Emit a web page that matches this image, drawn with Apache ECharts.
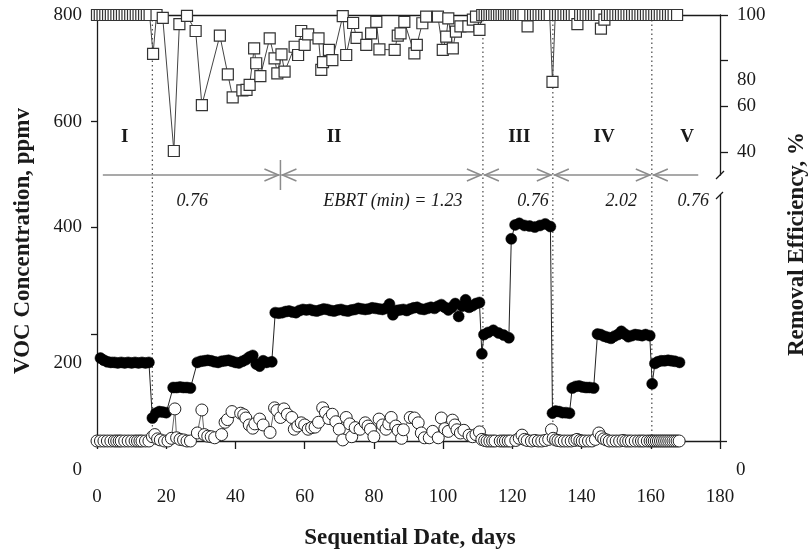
<!DOCTYPE html>
<html>
<head>
<meta charset="utf-8">
<title>VOC concentration and removal efficiency</title>
<script src="https://cdn.jsdelivr.net/npm/echarts@6/dist/echarts.min.js"></script>
<style>
  html, body { margin: 0; padding: 0; background: #fff; }
  #chart { width: 812px; height: 553px; }
</style>
</head>
<body>
<div id="chart"></div>
<script>
// removal efficiency, % (open squares, right axis, top panel)
const efficiency = [
  [0,100],[0.8,100],[1.6,100],[2.4,100],[3.2,100],[4,100],[4.8,100],[5.6,100],[6.4,100],[7.2,100],
  [8,100],[8.8,100],[9.6,100],[10.4,100],[11.2,100],[12,100],[12.8,100],[13.6,100],[14.4,100],[15.2,100],
  [16.2,83],[17.2,100],[19,98.7],[22.2,40.5],[23.8,96],[26,99.6],[28.5,93],[30.3,60.6],[35.5,91],
  [37.8,74],[39.2,64],[42,67],[43.2,67.2],[44.1,69.4],[45.4,85.4],[46,78.9],[47.2,73.3],[49.9,89.8],
  [51.3,81],[52.1,74.5],[53.3,82.8],[54.2,75.2],[57.1,86.1],[58.1,82.5],[59,93],[60,86.9],[61,91.5],
  [64,89.8],[64.8,76],[65.3,79.4],[67,84.7],[68,80.3],[71,99.5],[72,82.5],[74,96.5],[75,90],
  [77.8,86.9],[79.2,92],[80.7,97],[81.6,85],[86,84.7],[86.9,91],[87.7,92],[88.8,97],[91.7,83.2],
  [92.4,86.9],[94,96.4],[95.1,99.3],[98.5,99.3],[99.9,84.7],[100.9,90.5],[101.5,98.5],[102.8,85.4],
  [103.7,92.7],[105,95],[107.3,95],[108.6,98],[109.5,99.3],[110.5,93.5],
  [111.3,100],[112,100],[112.7,100],[113.4,100],[114.1,100],[114.8,100],[115.5,100],[116.2,100],
  [116.9,100],[117.6,100],[118.3,100],[119,100],[119.7,100],[120.4,100],[121.1,100],[121.8,100],
  [122.5,100],[123.2,100],[124.4,95],[125.2,100],[126,100],[126.8,100],[127.6,100],[128.4,100],
  [129.2,100],[130,100],[130.8,100],[131.6,70.7],[132.4,100],[133.2,100],[134,100],[134.8,100],
  [135.6,100],[136.4,100],[137.2,100],[138,100],[138.8,96],[139.6,100],[140.4,100],[141.2,100],
  [142,100],[142.8,100],[143.6,100],[144.4,100],[145.2,100],[145.6,94],[146.6,98],[147.4,100],
  [148.2,100],[149,100],[149.8,100],[150.6,100],[151.4,100],[152.2,100],[153,100],[153.8,100],
  [154.6,100],[155.4,100],[156.2,100],[157,100],[157.8,100],[158.6,100],[159.4,100],[160.2,100],
  [161,100],[161.8,100],[162.6,100],[163.4,100],[164.2,100],[165,100],[165.8,100],[166.6,100],[167.6,100]
];

// inlet VOC, ppmv (filled circles)
const inletVOC = [
  [1,155],[2,151],[3,148],[4,147],[5,147],[6,146],[7,147],[8,146],[9,147],[10,146],[11,147],[12,146],
  [13,147],[14,146],[15,147],
  [16,43],[17,52],[18,55],[19,54],[20,53],
  [22,100],[23,100],[24,101],[25,100],[26,100],[27,99],
  [29,147],[30,149],[31,150],[32,151],[33,150],[34,148],[35,147],[36,149],[37,150],[38,151],[39,149],
  [40,147],[41,146],[42,149],[43,152],[44,157],[45,160],[46,144],[47,140],[48,150],[49,147],[50.5,148],
  [51.5,240],[52.5,239],[53.5,240],[54.5,242],[55.5,243],[56.5,241],[57.5,240],[58.5,244],[59.5,246],
  [60.5,245],[61.5,246],[62.5,244],[63.5,243],[64.5,245],[65.5,247],[66.5,246],[67.5,244],[68.5,243],
  [69.5,245],[70.5,246],[71.5,244],[72.5,243],[73.5,245],[74.5,246],[75.5,248],[76.5,247],[77.5,246],
  [78.5,247],[79.5,249],[80.5,248],[81.5,247],[82.5,246],[83.5,248],[84.5,256],[85.5,236],[86.5,244],
  [87.5,245],[88.5,246],[89.5,244],[90.5,247],[91.5,249],[92.5,250],[93.5,247],[94.5,246],[95.5,248],
  [96.5,250],[97.5,248],[98.5,252],[99.5,255],[100.5,250],[101.5,245],[102.5,250],[103.5,257],
  [104.5,233],[105.5,252],[106.5,264],[107.5,250],[108.5,253],[109.5,257],[110.5,259],
  [111.2,163],[111.8,199],[113,203],[114.5,207],[116,202],[117.5,198],[119,193],
  [119.7,378],[120.8,404],[122,407],[123.5,403],[125,402],[126.5,400],[128,403],[129.5,406],[131,401],
  [131.6,52],[132.5,56],[133.5,55],[134.5,53],[135.5,53],[136.5,52],
  [137.3,99],[138.3,102],[139.3,103],[140.3,101],[141.3,100],[142.3,100],[143.5,99],
  [144.6,200],[145.5,199],[146.5,196],[147.5,194],[148.5,192],[149.5,196],[150.5,199],[151.5,205],
  [152.5,200],[153.5,195],[154.5,197],[155.5,199],[156.5,198],[157.5,197],[158.5,199],[159.7,197],
  [160.4,107],[161.2,145],[162,148],[163,150],[164,150],[165,151],[166,150],[167,149],[168.3,147]
];

// outlet VOC, ppmv (open circles)
const outletVOC = [
  [0,0],[1,0],[2,0],[3,0],[4,0],[5,0],[5.7,0],[6.4,0],[7,0],[8,0],[9,0],[10,0],[11,0],[11.7,0],
  [12.4,0],[13,0],[14,0],[15,0],[16,8],[16.7,12],[17.5,4],[18.3,2],[19.5,0],[20.5,0],[21.5,5],
  [22.5,60],[23,6],[24,3],[25,2],[26,0],[27,0],[29,15],[30.3,58],[31,12],[32,9],[33,8],[34,6],
  [36,12],[37,35],[37.7,40],[39,55],[41.5,52],[42.4,49],[43,43],[44,30],[45,24],[45.6,32],[47,41],
  [48,30],[50,16],[51.3,62],[52,57],[53,44],[54,60],[55,50],[56.3,44],[57,22],[58,28],[59,34],
  [60,30],[61,22],[62,25],[63,26],[64,35],[65.2,62],[66,53],[67,42],[68,50],[69,36],[70,22],[71,2],
  [72,44],[73,32],[73.6,8],[74.6,25],[76,22],[77.5,34],[78.3,28],[79,22],[80,8],[81.5,41],[82.5,30],
  [83.5,22],[84.3,32],[85,44],[86.3,28],[87,20],[88,5],[88.5,21],[90.5,44],[91.7,43],[92.8,34],
  [93.7,15],[94.6,6],[96,6],[97,18],[98.6,6],[99.5,43],[100.5,23],[101.5,18],[102.7,39],[103.4,30],
  [104,21],[105,15],[106,20],[107.5,11],[108.5,8],[109.5,12],[110.5,17],[111.2,3],[112,1],[112.7,0],
  [113.5,0],[114.3,0],[115,0],[116.5,0],[117.3,0],[118,0],[118.8,0],[119.5,0],[121,1],[122,5],
  [122.8,11],[123.5,3],[124.3,1],[125.5,0],[126.5,1],[127.5,0],[128.5,0],[129.5,1],[130.5,3],
  [131.3,21],[131.8,5],[132.5,2],[133.2,1],[134,0],[135,0],[136,0],[137,0],[138,1],[138.7,3],
  [139.5,1],[140.2,0],[141,0],[142,0],[143,0],[144,3],[145,15],[145.7,8],[146.4,4],[147.2,2],[148,0],
  [149,0],[150,0],[151,0],[152,1],[152.8,0],[153.6,0],[154.4,0],[155.5,0],[156.5,0],[157.3,0],[158,0],
  [159,0],[159.8,0],[160.4,0],[161,0],[161.6,0],[162.2,0],[162.8,0],[163.4,0],[164,0],[164.6,0],
  [165.2,0],[165.8,0],[166.4,0],[167,0],[167.6,0],[168.2,0]
];

// phases
const phaseChanges = [16, 111.5, 131.7, 160.3];          // dotted lines
const arrowSegments = [[1.4, 53, 0, 1], [53, 111.5, 1, 1], [111.5, 131.7, 1, 1], [131.7, 160.3, 1, 1], [160.3, 174, 1, 0]];
const phaseBars = [53];
const phaseNames = ['I', 'II', 'III', 'IV', 'V'];
const phaseNameDays = [8, 68.5, 122, 146.5, 170.5];
const ebrtLabels = ['0.76', 'EBRT (min) = 1.23', '0.76', '2.02', '0.76'];
const ebrtDays = [27.5, 85.5, 126, 151.5, 172.3];

// tick values
const xTicks = { min: 0, max: 180, interval: 20 };
const vocTopTicks = [600, 800];
const effTicks = [40, 60, 80, 100];
const vocBottomTicks = [0, 200, 400];

const FONT = '"Liberation Serif", "DejaVu Serif", serif';
const INK = '#1a1a1a';

const chart = echarts.init(document.getElementById('chart'));

// overlay grid works in pixels from its top edge
const ARROW_Y = 160;
const textStyle = { fontFamily: FONT, fontSize: 19, color: INK };

function chevron(x, y, dir) {
  return {
    type: 'polyline',
    shape: { points: [[x - dir * 14, y - 6], [x, y], [x - dir * 14, y + 6]] },
    style: { stroke: '#8c8c8c', lineWidth: 1.5, fill: null }
  };
}

const option = {
  animation: false,
  backgroundColor: '#fff',
  grid: [
    { left: 97, right: 92, top: 15, height: 160 },
    { left: 97, right: 92, top: 195, height: 246 },
    { left: 97, right: 92, top: 15, height: 426 }
  ],
  xAxis: [
    {
      gridIndex: 0, type: 'value', min: 0, max: 180, position: 'top',
      axisLine: { onZero: false, lineStyle: { color: INK, width: 1.3 } },
      axisTick: { show: false }, axisLabel: { show: false }, splitLine: { show: false }
    },
    {
      gridIndex: 1, type: 'value', min: xTicks.min, max: xTicks.max, interval: xTicks.interval,
      axisLine: { onZero: false, lineStyle: { color: INK, width: 1.3 } },
      axisTick: { length: 8, lineStyle: { color: INK, width: 1.3 } },
      axisLabel: Object.assign({ margin: 47 }, textStyle),
      splitLine: { show: false }
    },
    { gridIndex: 2, type: 'value', min: 0, max: 180, show: false }
  ],
  yAxis: [
    {
      gridIndex: 0, type: 'value', min: 500, max: 800, position: 'left',
      axisLine: { show: false, onZero: false },
      axisTick: { show: true, customValues: vocTopTicks, length: 6, lineStyle: { color: INK, width: 1.3 } },
      axisLabel: Object.assign({ customValues: vocTopTicks, margin: 15 }, textStyle),
      splitLine: { show: false }
    },
    {
      gridIndex: 0, type: 'value', min: 30, max: 100, position: 'right',
      axisLine: { show: true, onZero: false, lineStyle: { color: INK, width: 1.3 } },
      axisTick: { show: true, customValues: effTicks, length: 8, lineStyle: { color: INK, width: 1.3 } },
      axisLabel: Object.assign({
        customValues: effTicks, margin: 17,
        formatter: v => (v === 80 ? '{lo|80}' : '{n|' + v + '}'),
        rich: {
          n: { fontFamily: FONT, fontSize: 19, color: INK },
          lo: { fontFamily: FONT, fontSize: 19, color: INK, padding: [38, 0, 0, 0] }
        }
      }, textStyle),
      splitLine: { show: false }
    },
    {
      gridIndex: 1, type: 'value', min: 0, max: 460, position: 'left',
      axisLine: { show: false, onZero: false },
      axisTick: { show: true, customValues: vocBottomTicks, length: 6, lineStyle: { color: INK, width: 1.3 } },
      axisLabel: Object.assign({
        customValues: vocBottomTicks, margin: 15,
        formatter: v => (v === 400 ? '{n|400}' : '{lo|' + v + '}'),
        rich: {
          n: { fontFamily: FONT, fontSize: 19, color: INK },
          lo: { fontFamily: FONT, fontSize: 19, color: INK, padding: [58, 0, 0, 0] }
        }
      }, textStyle),
      splitLine: { show: false }
    },
    {
      gridIndex: 1, type: 'value', min: 0, max: 460, position: 'right',
      axisLine: { show: true, onZero: false, lineStyle: { color: INK, width: 1.3 } },
      axisTick: { show: true, customValues: [0], length: 7, lineStyle: { color: INK, width: 1.3 } },
      axisLabel: Object.assign({
        customValues: [0], margin: 16,
        formatter: v => '{lo|' + v + '}',
        rich: { lo: { fontFamily: FONT, fontSize: 19, color: INK, padding: [58, 0, 0, 0] } }
      }, textStyle),
      splitLine: { show: false }
    },
    {
      gridIndex: 2, type: 'value', min: 0, max: 426, inverse: true, position: 'left',
      axisLine: { show: true, onZero: false, lineStyle: { color: INK, width: 1.3 } },
      axisTick: { show: false }, axisLabel: { show: false }, splitLine: { show: false }
    }
  ],
  series: [
    {
      name: 'Removal efficiency', type: 'line', xAxisIndex: 0, yAxisIndex: 1,
      data: efficiency, symbol: 'rect', symbolSize: 11, z: 4,
      itemStyle: { color: '#fff', borderColor: '#333', borderWidth: 1.2 },
      lineStyle: { color: '#444', width: 1 }
    },
    {
      name: 'Inlet', type: 'line', xAxisIndex: 1, yAxisIndex: 2,
      data: inletVOC, symbol: 'circle', symbolSize: 11, z: 3,
      itemStyle: { color: '#000', borderColor: '#000', borderWidth: 0.5 },
      lineStyle: { color: '#222', width: 1 }
    },
    {
      name: 'Outlet', type: 'line', xAxisIndex: 1, yAxisIndex: 2,
      data: outletVOC, symbol: 'circle', symbolSize: 12, z: 4,
      itemStyle: { color: '#fff', borderColor: '#222', borderWidth: 1 },
      lineStyle: { color: '#555', width: 0.9 }
    },
    {
      name: 'phase dividers', type: 'custom', xAxisIndex: 2, yAxisIndex: 4, z: 2,
      data: phaseChanges.map(d => [d]),
      renderItem: (params, api) => {
        const a = api.coord([api.value(0), 5]);
        const b = api.coord([api.value(0), 422]);
        return {
          type: 'line',
          shape: { x1: a[0], y1: a[1], x2: b[0], y2: b[1] },
          style: { stroke: '#555', lineWidth: 1.3, lineDash: [1.5, 3] }
        };
      }
    },
    {
      name: 'phase arrows', type: 'custom', xAxisIndex: 2, yAxisIndex: 4, z: 2,
      data: arrowSegments,
      renderItem: (params, api) => {
        const a = api.coord([api.value(0), ARROW_Y]);
        const b = api.coord([api.value(1), ARROW_Y]);
        const children = [{
          type: 'line',
          shape: { x1: a[0] + 1, y1: a[1], x2: b[0] - 1, y2: b[1] },
          style: { stroke: '#8c8c8c', lineWidth: 1.5 }
        }];
        if (api.value(2)) children.push(chevron(a[0] + 2, a[1], -1));
        if (api.value(3)) children.push(chevron(b[0] - 2, b[1], 1));
        return { type: 'group', children };
      }
    },
    {
      name: 'phase bars', type: 'custom', xAxisIndex: 2, yAxisIndex: 4, z: 2,
      data: phaseBars.map(d => [d]),
      renderItem: (params, api) => {
        const a = api.coord([api.value(0), ARROW_Y - 15]);
        const b = api.coord([api.value(0), ARROW_Y + 15]);
        return {
          type: 'line',
          shape: { x1: a[0], y1: a[1], x2: b[0], y2: b[1] },
          style: { stroke: '#8c8c8c', lineWidth: 1.5 }
        };
      }
    },
    {
      name: 'phase names', type: 'custom', xAxisIndex: 2, yAxisIndex: 4, z: 5,
      data: phaseNameDays.map(d => [d]),
      renderItem: (params, api) => {
        const p = api.coord([api.value(0), 122]);
        return {
          type: 'text',
          style: {
            text: phaseNames[params.dataIndex], x: p[0], y: p[1],
            font: 'bold 19px ' + FONT, fill: INK, align: 'center', verticalAlign: 'middle'
          }
        };
      }
    },
    {
      name: 'EBRT', type: 'custom', xAxisIndex: 2, yAxisIndex: 4, z: 5,
      data: ebrtDays.map(d => [d]),
      renderItem: (params, api) => {
        const p = api.coord([api.value(0), 186]);
        return {
          type: 'text',
          style: {
            text: ebrtLabels[params.dataIndex], x: p[0], y: p[1],
            font: 'italic 18px ' + FONT, fill: INK, align: 'center', verticalAlign: 'middle'
          }
        };
      }
    }
  ],
  graphic: [
    {
      type: 'text', x: 23, y: 241, rotation: Math.PI / 2,
      style: { text: 'VOC Concentration, ppmv', font: 'bold 23px ' + FONT, fill: INK, align: 'center', verticalAlign: 'middle' }
    },
    {
      type: 'text', x: 797, y: 244, rotation: Math.PI / 2,
      style: { text: 'Removal Efficiency, %', font: 'bold 23px ' + FONT, fill: INK, align: 'center', verticalAlign: 'middle' }
    },
    {
      type: 'text', x: 410, y: 538,
      style: { text: 'Sequential Date, days', font: 'bold 23px ' + FONT, fill: INK, align: 'center', verticalAlign: 'middle' }
    },
    // axis break marks on the right axis
    { type: 'line', shape: { x1: 716, y1: 179, x2: 724, y2: 171 }, style: { stroke: INK, lineWidth: 1.2 } },
    { type: 'line', shape: { x1: 716, y1: 199, x2: 723, y2: 192 }, style: { stroke: INK, lineWidth: 1.2 } }
  ]
};

chart.setOption(option);
</script>
</body>
</html>
